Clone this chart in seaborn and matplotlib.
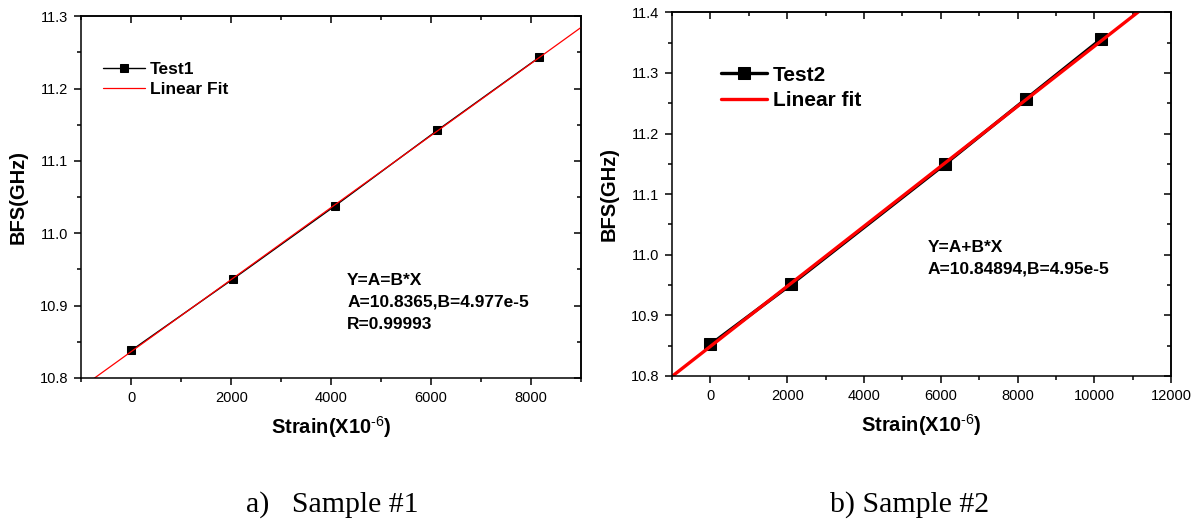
import numpy as np
import pandas as pd
import matplotlib
matplotlib.use("Agg")
import matplotlib.pyplot as plt
import seaborn as sns
from matplotlib.ticker import MultipleLocator, FormatStrFormatter

# Sample #1 data
strain1 = [0, 2040, 4080, 6120, 8160]
bfs1 = [10.838, 10.937, 11.038, 11.142, 11.243]
fit1_a, fit1_b = 10.8365, 4.977e-5

# Sample #2 data
strain2 = [0, 2100, 6120, 8220, 10180]
bfs2 = [10.852, 10.951, 11.150, 11.257, 11.356]
fit2_a, fit2_b = 10.84894, 4.95e-5

sns.set_style("ticks")
plt.rcParams["font.family"] = ["Liberation Sans", "DejaVu Sans"]
plt.rcParams["mathtext.fontset"] = "custom"
plt.rcParams["mathtext.rm"] = "Liberation Sans"
plt.rcParams["axes.linewidth"] = 1.1
for key in ["text.color", "axes.labelcolor", "xtick.color", "ytick.color",
            "axes.edgecolor"]:
    plt.rcParams[key] = "black"

fig = plt.figure(figsize=(11.98, 5.22), dpi=100)
ax1 = fig.add_axes([0.0679, 0.276, 0.4171, 0.693])
ax2 = fig.add_axes([0.561, 0.2797, 0.4165, 0.6967])


def style_axis(ax, xlim, ylim):
    ax.set_xlim(*xlim)
    ax.set_ylim(*ylim)
    ax.xaxis.set_major_locator(MultipleLocator(2000))
    ax.xaxis.set_minor_locator(MultipleLocator(1000))
    ax.yaxis.set_major_locator(MultipleLocator(0.1))
    ax.yaxis.set_minor_locator(MultipleLocator(0.05))
    ax.yaxis.set_major_formatter(FormatStrFormatter("%.1f"))
    ax.tick_params(which="major", direction="out", length=5.2, width=1.1,
                   labelsize=10.5, color="black", labelcolor="black", pad=4)
    ax.tick_params(which="minor", direction="out", length=3, width=1.1)
    for s in ax.spines.values():
        s.set_visible(True)
        s.set_color("black")
    # mirrored ticks pointing inwards on top and right
    top = ax.secondary_xaxis("top")
    top.xaxis.set_major_locator(MultipleLocator(2000))
    top.xaxis.set_minor_locator(MultipleLocator(1000))
    top.tick_params(which="major", direction="in", length=5.2, width=1.1, labeltop=False)
    top.tick_params(which="minor", direction="in", length=3, width=1.1)
    right = ax.secondary_yaxis("right")
    right.yaxis.set_major_locator(MultipleLocator(0.1))
    right.yaxis.set_minor_locator(MultipleLocator(0.05))
    right.tick_params(which="major", direction="in", length=5.2, width=1.1, labelright=False)
    right.tick_params(which="minor", direction="in", length=3, width=1.1)
    ax.set_xlabel(r"Strain(X10$^{\text{-6}}$)", fontsize=14.5, fontweight="bold", labelpad=7)
    ax.set_ylabel("BFS(GHz)", fontsize=14.5, fontweight="bold", labelpad=9)


# Panel a
df1 = pd.DataFrame({"Strain": strain1, "BFS": bfs1})
xf1 = np.array([-1000, 9000])
fit1 = pd.DataFrame({"Strain": xf1, "BFS": fit1_a + fit1_b * xf1})
sns.lineplot(data=df1, x="Strain", y="BFS", ax=ax1, color="black", lw=1.0,
             marker="s", markersize=5.5, markeredgecolor="black", label="Test1")
sns.lineplot(data=fit1, x="Strain", y="BFS", ax=ax1, color="red", lw=0.9,
             label="Linear Fit")
style_axis(ax1, (-1000, 9000), (10.8, 11.3))
ax1.legend(loc="upper left", bbox_to_anchor=(0.012, 0.917), frameon=False,
           handlelength=2.4, handletextpad=0.3, labelspacing=0.3,
           prop={"weight": "bold", "size": 12.5})
ax1.text(0.532, 0.291, "Y=A=B*X\nA=10.8365,B=4.977e-5\nR=0.99993",
         transform=ax1.transAxes, fontsize=12.5, fontweight="bold",
         va="top", ha="left", linespacing=1.6)

# Panel b
df2 = pd.DataFrame({"Strain": strain2, "BFS": bfs2})
xf2 = np.array([-1000, 12000])
fit2 = pd.DataFrame({"Strain": xf2, "BFS": fit2_a + fit2_b * xf2})
sns.lineplot(data=df2, x="Strain", y="BFS", ax=ax2, color="black", lw=2.4,
             marker="s", markersize=8, markeredgecolor="black", label="Test2")
sns.lineplot(data=fit2, x="Strain", y="BFS", ax=ax2, color="red", lw=2.4,
             label="Linear fit")
style_axis(ax2, (-1000, 12000), (10.8, 11.4))
ax2.legend(loc="upper left", bbox_to_anchor=(0.06, 0.905), frameon=False,
           handlelength=2.2, handletextpad=0.3, labelspacing=0.3,
           prop={"weight": "bold", "size": 15})
ax2.text(0.513, 0.375, "Y=A+B*X\nA=10.84894,B=4.95e-5",
         transform=ax2.transAxes, fontsize=12.5, fontweight="bold",
         va="top", ha="left", linespacing=1.55)

fig.text(0.2776, 0.019, "a)   Sample #1", fontsize=21.5, family="Liberation Serif",
         ha="center", va="baseline")
fig.text(0.759, 0.019, "b) Sample #2", fontsize=21.5, family="Liberation Serif",
         ha="center", va="baseline")

fig.savefig("out.png", dpi=100)
